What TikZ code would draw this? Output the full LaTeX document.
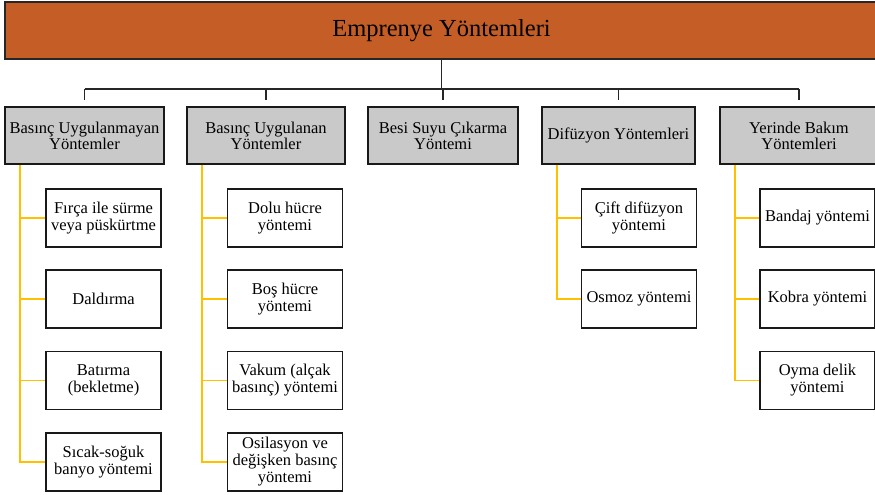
\documentclass[tikz,border=0pt]{standalone}
\usepackage{fontspec}
\setmainfont{Liberation Serif}
\definecolor{rust}{HTML}{C45E26}
\definecolor{boxgray}{HTML}{C9C9C9}
\definecolor{gold}{HTML}{FFC000}

\begin{document}
\begin{tikzpicture}[x=1pt,y=-1pt]
  \tikzset{
    every node/.style={align=center,inner sep=0pt},
    root/.style={draw=black!85,line width=2pt,fill=rust,minimum width=873pt,minimum height=57pt,font=\fontsize{24.5}{26}\selectfont},
    group/.style={draw=black!90,line width=1.6pt,fill=boxgray,minimum height=57pt,font=\fontsize{16.5}{16}\selectfont},
    leaf/.style={draw=black!90,line width=1.6pt,fill=white,minimum width=115pt,minimum height=58pt,font=\fontsize{16.5}{17}\selectfont},
    trunk/.style={draw=black!85,line width=1.8pt},
    branch/.style={draw=gold,line width=1.8pt}
  }
  \useasboundingbox (0,0) rectangle (875,495);

  \node[root] (top) at (441.5,30.5) {Emprenye Yöntemleri};
  \coordinate (bar) at (442,89);

  \node[group,minimum width=159pt] (g1) at ( 84.5,135.5) {Basınç Uygulanmayan\\Yöntemler};
  \node[group,minimum width=158pt] (g2) at (266  ,135.5) {Basınç Uygulanan\\Yöntemler};
  \node[group,minimum width=150pt] (g3) at (443  ,135.5) {Besi Suyu Çıkarma\\Yöntemi};
  \node[group,minimum width=153pt] (g4) at (618.5,135.5) {Difüzyon Yöntemleri};
  \node[group,minimum width=158pt] (g5) at (799  ,135.5) {Yerinde Bakım\\Yöntemleri};

  \node[leaf] (g1a) at (103.5,218  ) {Fırça ile sürme\\veya püskürtme};
  \node[leaf] (g1b) at (103.5,299  ) {Daldırma};
  \node[leaf] (g1c) at (103.5,380.5) {Batırma\\(bekletme)};
  \node[leaf] (g1d) at (103.5,462  ) {Sıcak-soğuk\\banyo yöntemi};

  \node[leaf] (g2a) at (285  ,218  ) {Dolu hücre\\yöntemi};
  \node[leaf] (g2b) at (285  ,299  ) {Boş hücre\\yöntemi};
  \node[leaf] (g2c) at (285  ,380.5) {Vakum (alçak\\basınç) yöntemi};
  \node[leaf] (g2d) at (285  ,462  ) {Osilasyon ve\\değişken basınç\\yöntemi};

  \node[leaf] (g4a) at (639  ,218  ) {Çift difüzyon\\yöntemi};
  \node[leaf] (g4b) at (639  ,299  ) {Osmoz yöntemi};

  \node[leaf] (g5a) at (817.5,218  ) {Bandaj yöntemi};
  \node[leaf] (g5b) at (817.5,299  ) {Kobra yöntemi};
  \node[leaf] (g5c) at (817.5,380.5) {Oyma delik\\yöntemi};

  \draw[trunk] (top.south) -- (top.south |- bar);
  \draw[trunk] (bar -| g1.north) -- (bar -| g5.north);
  \foreach \g in {g1,g2,g3,g4,g5}
    \draw[trunk] (bar -| \g.north) -- ([yshift=6pt]\g.north);

  \foreach \g/\c in {g1/g1a,g1/g1b,g1/g1c,g1/g1d,g2/g2a,g2/g2b,g2/g2c,g2/g2d,g4/g4a,g4/g4b,g5/g5a,g5/g5b,g5/g5c}
    \draw[branch] ([xshift=16pt]\g.south west) |- (\c.west);
\end{tikzpicture}
\end{document}
